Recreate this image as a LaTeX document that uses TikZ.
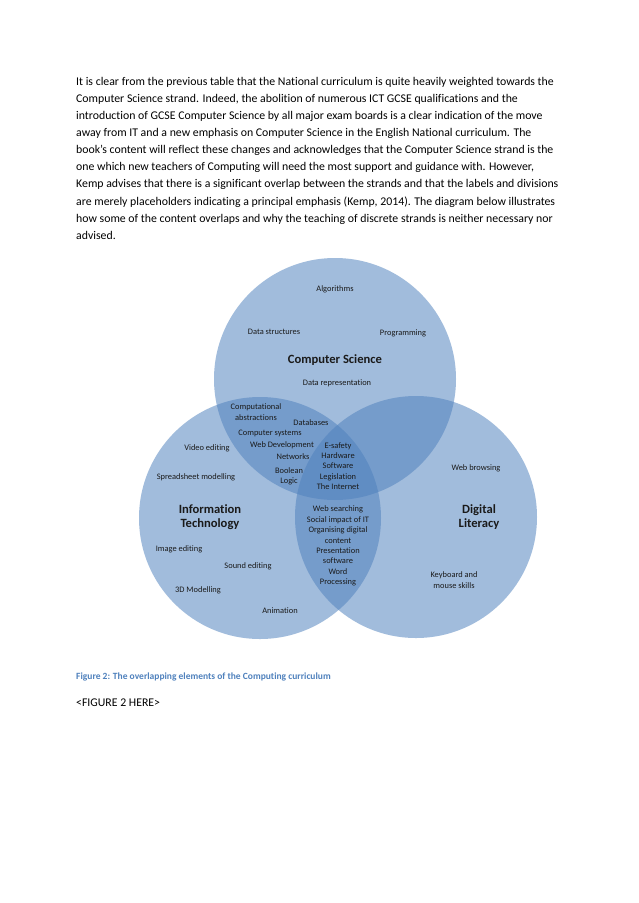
\documentclass[tikz,border=0pt]{standalone}
\usepackage{fontspec}
\setmainfont{Carlito}[Ligatures=NoCommon]
\definecolor{strandblue}{HTML}{4F81BD}
\definecolor{labeltext}{HTML}{1A1A1A}
\begin{document}
\begin{tikzpicture}[x=1pt,y=-1pt,
    strand/.style={circle,fill=strandblue,fill opacity=0.53,inner sep=0pt,minimum size=242pt},
    item/.style={font=\fontsize{8.4}{10.4}\selectfont,align=center,text=labeltext,inner sep=0pt},
    title/.style={font=\fontsize{12.6}{14}\selectfont\bfseries,align=center,text=labeltext,inner sep=0pt}]
  \useasboundingbox[fill=white] (0,0) rectangle (638,903);
  % --- body text
  \node[anchor=north west,align=left,inner sep=0pt,font=\fontsize{11.8}{17.1}\selectfont] (intro) at (76,77)
    {It is clear from the previous table that the National curriculum is quite heavily weighted towards the\\
     Computer Science strand. Indeed, the abolition of numerous ICT GCSE qualifications and the\\
     introduction of GCSE Computer Science by all major exam boards is a clear indication of the move\\
     away from IT and a new emphasis on Computer Science in the English National curriculum. The\\
     book’s content will reflect these changes and acknowledges that the Computer Science strand is the\\
     one which new teachers of Computing will need the most support and guidance with. However,\\
     Kemp advises that there is a significant overlap between the strands and that the labels and divisions\\
     are merely placeholders indicating a principal emphasis (Kemp, 2014). The diagram below illustrates\\
     how some of the content overlaps and why the teaching of discrete strands is neither necessary nor\\
     advised.};
  % --- the three strands
  \node[strand] (cs) at (335,379) {};
  \node[strand] (it) at (260,518) {};
  \node[strand] (dl) at (416,517) {};
  % --- computer science only
  \node[item] (algorithms) at (335,289) {Algorithms};
  \node[item] (datastruct) at (274,332) {Data structures};
  \node[item] (programming) at (403,333) {Programming};
  \node[title] (cstitle) at (335,360) {Computer Science};
  \node[item] (datarep) at (337,383) {Data representation};
  % --- computer science and IT
  \node[item] (abstractions) at (256,412) {Computational\\abstractions};
  \node[item] (databases) at (311,423) {Databases};
  \node[item] (compsys) at (270,433) {Computer systems};
  \node[item] (webdev) at (282,445) {Web Development};
  \node[item] (networks) at (293,457) {Networks};
  \node[item] (boolean) at (289,476) {Boolean\\Logic};
  % --- all three
  \node[item] (core) at (338,466) {E-safety\\Hardware\\Software\\Legislation\\The Internet};
  % --- information technology only
  \node[item] (videoedit) at (207,448) {Video editing};
  \node[item] (spreadsheet) at (196,477) {Spreadsheet modelling};
  \node[title] (ittitle) at (210,517) {Information\\Technology};
  \node[item] (imageedit) at (179,549) {Image editing};
  \node[item] (soundedit) at (248,566) {Sound editing};
  \node[item] (modelling) at (198,590) {3D Modelling};
  \node[item] (animation) at (280,611) {Animation};
  % --- IT and digital literacy
  \node[item] (itdl) at (338,546) {Web searching\\Social impact of IT\\Organising digital\\content\\Presentation\\software\\Word\\Processing};
  % --- digital literacy only
  \node[item] (webbrowse) at (476,468) {Web browsing};
  \node[title] (dltitle) at (479,517) {Digital\\Literacy};
  \node[item] (keyboard) at (454,580) {Keyboard and\\mouse skills};
  % --- caption
  \node[anchor=west,inner sep=0pt,font=\fontsize{9.5}{11}\selectfont\bfseries,text=strandblue] (caption) at (76,677)
    {Figure 2: The overlapping elements of the Computing curriculum};
  \node[anchor=west,inner sep=0pt,font=\fontsize{11.8}{14}\selectfont] (placeholder) at (76,703) {<FIGURE 2 HERE>};
\end{tikzpicture}
\end{document}
